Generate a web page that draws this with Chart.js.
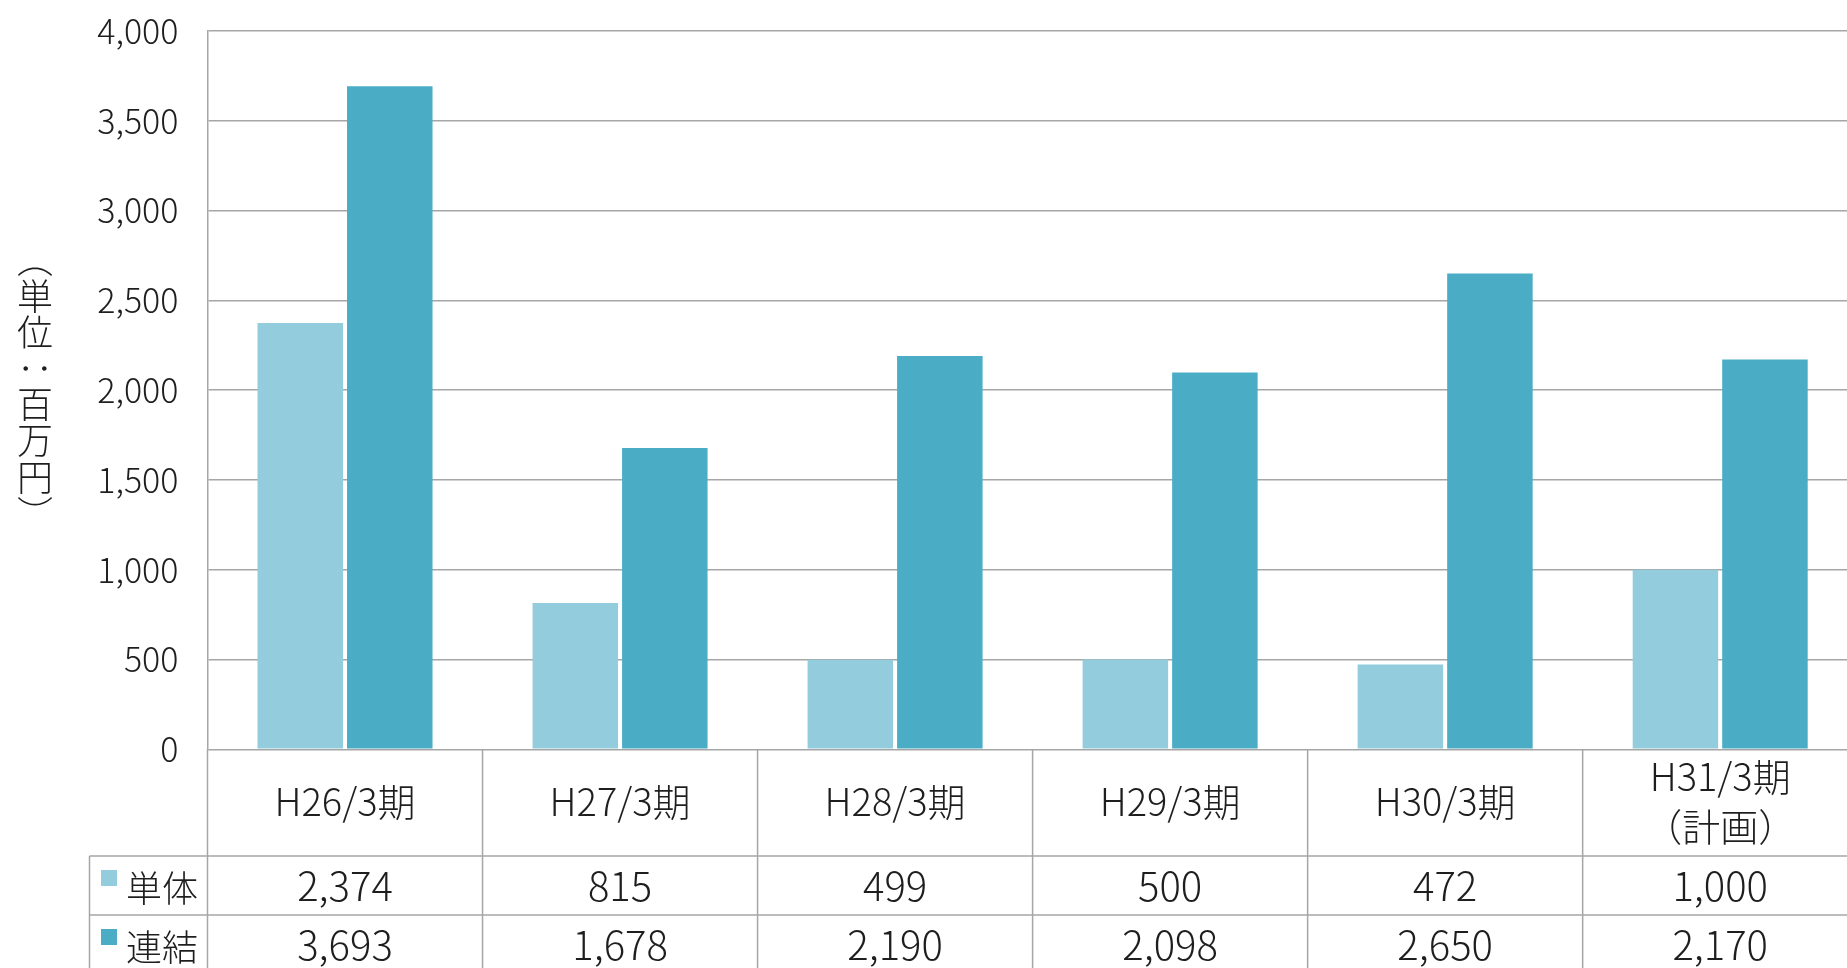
<!DOCTYPE html>
<html lang="ja">
<head>
<meta charset="utf-8">
<title>単体・連結 推移</title>
<script src="https://cdn.jsdelivr.net/npm/chart.js@4.4.1/dist/chart.umd.min.js"></script>
<style>
  html, body { margin: 0; padding: 0; background: #ffffff; overflow: hidden; }
  #wrap { width: 1870px; height: 968px; }
  canvas { display: block; }
</style>
</head>
<body>
<div id="wrap"><canvas id="chart" width="1870" height="968"></canvas></div>
<script>
// Fiscal periods (the last one is a plan, shown on two lines)
const categories = ['H26/3期', 'H27/3期', 'H28/3期', 'H29/3期', 'H30/3期', ['H31/3期', '（計画）']];
// Values in millions of yen
const standalone = [2374, 815, 499, 500, 472, 1000];
const consolidated = [3693, 1678, 2190, 2098, 2650, 2170];
const seriesNames = ['単体', '連結'];
const seriesColors = ['#93cddd', '#4bacc6'];
const yMax = 4000;
const yStep = 500;
const unitLabel = '（単位：百万円）';

const FONT = '"Noto Sans CJK JP", "Noto Sans", sans-serif';
const W = '300 ';
const TEXT = '#1e1e1e';
const LINE = '#a6a6a6';

const fmt = v => v.toLocaleString('en-US');

// Data table under the plot plus the vertical unit label
const tablePlugin = {
  id: 'dataTable',
  afterDraw(chart) {
    const ctx = chart.ctx;
    const area = chart.chartArea;
    const xs = chart.scales.x;
    const n = categories.length;
    const catW = (area.right - area.left) / n;
    const bottom = chart.height;
    const headBottom = 856;
    const row1Bottom = 915;
    const tableLeft = 89.5;

    ctx.save();
    ctx.strokeStyle = LINE;
    ctx.lineWidth = 1.5;
    ctx.beginPath();
    for (let i = 0; i <= n; i++) {
      const x = area.left + i * catW;
      ctx.moveTo(x, area.bottom);
      ctx.lineTo(x, bottom);
    }
    ctx.moveTo(tableLeft, headBottom);
    ctx.lineTo(area.right, headBottom);
    ctx.moveTo(tableLeft, row1Bottom);
    ctx.lineTo(area.right, row1Bottom);
    ctx.moveTo(tableLeft, headBottom);
    ctx.lineTo(tableLeft, bottom);
    ctx.stroke();

    ctx.fillStyle = TEXT;
    ctx.textAlign = 'center';
    ctx.textBaseline = 'middle';

    // category header row
    ctx.font = W + '38px ' + FONT;
    categories.forEach((c, i) => {
      const x = xs.getPixelForValue(i);
      if (Array.isArray(c)) {
        ctx.fillText(c[0], x, 777);
        ctx.fillText(c[1], x, 827);
      } else {
        ctx.fillText(c, x, 802);
      }
    });

    // value rows
    const rows = [standalone, consolidated];
    const rowY = [886, 945];
    ctx.font = W + '40px ' + FONT;
    rows.forEach((vals, r) => {
      vals.forEach((v, i) => {
        ctx.fillText(fmt(v), xs.getPixelForValue(i), rowY[r]);
      });
    });

    // row headers with colour keys
    ctx.textAlign = 'left';
    ctx.font = W + '36px ' + FONT;
    seriesNames.forEach((name, r) => {
      ctx.fillStyle = seriesColors[r];
      ctx.fillRect(101, rowY[r] - 16, 16, 16);
      ctx.fillStyle = TEXT;
      ctx.fillText(name, 126, rowY[r] + 2);
    });

    // vertical unit label, brackets and colon turned for vertical setting
    ctx.font = W + '36px ' + FONT;
    ctx.textAlign = 'center';
    const chars = Array.from(unitLabel);
    const pitch = 36.2;
    const y0 = 296 - pitch;
    chars.forEach((ch, k) => {
      const y = y0 + k * pitch;
      ctx.save();
      ctx.translate(35, y);
      if ('（）：'.includes(ch)) ctx.rotate(Math.PI / 2);
      ctx.fillText(ch, 0, 0);
      ctx.restore();
    });
    ctx.restore();
  }
};

new Chart(document.getElementById('chart'), {
  type: 'bar',
  data: {
    labels: categories,
    datasets: [
      { label: seriesNames[0], data: standalone, backgroundColor: seriesColors[0] },
      { label: seriesNames[1], data: consolidated, backgroundColor: seriesColors[1] }
    ]
  },
  options: {
    responsive: false,
    animation: false,
    devicePixelRatio: 1,
    layout: { padding: { top: 31, right: 12.3, bottom: 968 - 749.3, left: 0 } },
    datasets: { bar: { categoryPercentage: 0.651, barPercentage: 0.955 } },
    plugins: { legend: { display: false }, tooltip: { enabled: false } },
    scales: {
      x: { display: false },
      y: {
        min: 0,
        max: yMax,
        afterFit(scale) { scale.width = 207.5; },
        border: { display: true, color: LINE, width: 1.5 },
        grid: { color: LINE, lineWidth: 1.5, drawTicks: true, tickLength: 29, tickColor: 'rgba(0,0,0,0)' },
        ticks: {
          stepSize: yStep,
          padding: 0,
          color: TEXT,
          font: { family: FONT, size: 34, weight: '300' },
          callback: v => fmt(v)
        }
      }
    }
  },
  plugins: [tablePlugin]
});
</script>
</body>
</html>
